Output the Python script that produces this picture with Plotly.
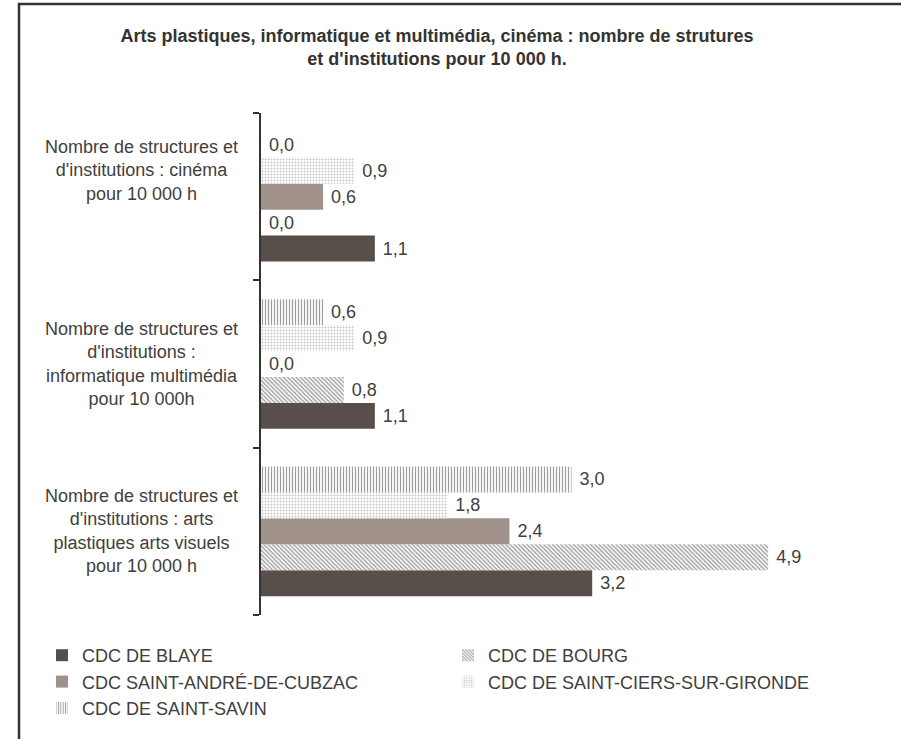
import plotly.graph_objects as go

categories = [
    "Nombre de structures et<br>d'institutions : arts<br>plastiques arts visuels<br>pour 10 000 h",
    "Nombre de structures et<br>d'institutions :<br>informatique multimédia<br>pour 10 000h",
    "Nombre de structures et<br>d'institutions : cinéma<br>pour 10 000 h",
]
series_names = [
    "CDC DE BLAYE",
    "CDC DE BOURG",
    "CDC SAINT-ANDRÉ-DE-CUBZAC",
    "CDC DE SAINT-CIERS-SUR-GIRONDE",
    "CDC DE SAINT-SAVIN",
]
blaye = [3.2, 1.1, 1.1]
bourg = [4.9, 0.8, 0.0]
saint_andre = [2.4, 0.0, 0.6]
saint_ciers = [1.8, 0.9, 0.9]
saint_savin = [3.0, 0.6, 0.0]
values = [blaye, bourg, saint_andre, saint_ciers, saint_savin]

styles = [
    dict(color="#594f4a"),
    dict(color="white", pattern=dict(shape="\\", fgcolor="#4a4a4a", bgcolor="white", size=3, solidity=0.5)),
    dict(color="#a0918b"),
    dict(color="white", pattern=dict(shape=".", fgcolor="#8f8f8f", bgcolor="white", size=3, solidity=0.35)),
    dict(color="white", pattern=dict(shape="|", fgcolor="#3c3c3c", bgcolor="white", size=3, solidity=0.4)),
]

FONT = "Liberation Sans, Arial, sans-serif"
TXT = "#404040"

fig = go.Figure()
for name, vals, st in zip(series_names, values, styles):
    fig.add_trace(go.Bar(
        y=categories, x=vals, name=name, orientation="h",
        marker=dict(line=dict(width=0), **st),
        text=["\u00a0" + f"{v:.1f}".replace(".", ",") for v in vals],
        textposition="outside", cliponaxis=False,
        textfont=dict(family=FONT, size=18, color=TXT),
    ))

L, R, T, B = 261, 40, 113, 124
W, H = 901 - L - R, 739 - T - B
px = lambda p: (p - L) / W
py = lambda p: (739 - B - p) / H

annotations = []
shifts = [0, 0, 26]
for i, c in enumerate(categories):
    annotations.append(dict(
        x=px(141), xref="paper", y=c, yref="y", text=c, showarrow=False,
        xanchor="center", yanchor="middle", align="center", yshift=shifts[i],
        font=dict(family=FONT, size=18, color=TXT),
    ))

fig.update_layout(
    width=901, height=739,
    margin=dict(l=L, r=R, t=T, b=B),
    paper_bgcolor="white", plot_bgcolor="white",
    barmode="group", bargap=0.225, bargroupgap=0,
    title=dict(
        text="<b>Arts plastiques, informatique et multimédia, cinéma : nombre de strutures<br>et d'institutions pour 10 000 h.</b>",
        x=437 / 901, xanchor="center", y=1 - 42 / 739, yanchor="middle", xref="container", yref="container",
        font=dict(family=FONT, size=18, color="#333333"),
    ),
    xaxis=dict(range=[0, W / 103.5], visible=False),
    yaxis=dict(
        type="category", categoryorder="array", categoryarray=categories,
        showticklabels=False,
        tickson="boundaries", ticks="outside", ticklen=6, tickwidth=2, tickcolor="#333333",
        showline=True, linecolor="#333333", linewidth=2, showgrid=False, zeroline=False,
    ),
    showlegend=True,
    legend=dict(
        orientation="h", x=px(42), y=py(637), xanchor="left", yanchor="top",
        traceorder="normal", entrywidth=361, entrywidthmode="pixels",
        font=dict(family=FONT, size=18, color=TXT), bgcolor="rgba(0,0,0,0)",
    ),
    annotations=annotations,
    shapes=[dict(
        type="rect", xref="paper", yref="paper",
        x0=px(19), x1=px(915), y0=py(760), y1=py(4),
        line=dict(color="#333333", width=2.5), fillcolor="rgba(0,0,0,0)", layer="below",
    )],
)

fig.write_html(
    "out.html",
    config={"displayModeBar": False},
    post_script="document.body.style.margin='0';document.body.style.overflow='hidden';",
)
